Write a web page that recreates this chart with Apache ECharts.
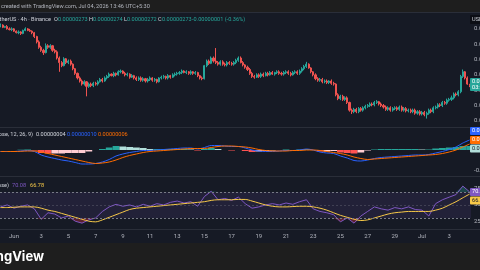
<!DOCTYPE html>
<html>
<head>
<meta charset="utf-8">
<script src="https://cdn.jsdelivr.net/npm/echarts@6/dist/echarts.min.js"></script>
<style>
html, body { margin: 0; background: #161a25; }
#chart { width: 480px; height: 270px; }
</style>
</head>
<body>
<div id="chart"></div>
<script>
// 4h bars, bar 0 = May 31 00:00. prices in units of 0.00000001 USDT
var firstOpen = 312;
var closes = [
  312.5, 311, 311.5, 310, 309.5, 310,
  308.5, 307.5, 308, 307, 309, 310,
  309, 308.5, 307.5, 305, 301.5, 298,
  296, 294.5, 299, 298, 299, 296,
  295, 291, 288, 286, 290.5, 288,
  289, 287, 284, 281, 278, 276,
  274, 275.5, 272.5, 274, 273, 274.5,
  274, 275.5, 277, 276, 278, 279,
  280.5, 279.5, 281, 280, 282, 282.5,
  281, 280, 280.5, 278.5, 279.5, 278,
  277, 278, 276.5, 277.5, 276, 277,
  278, 276.5, 277, 275.5, 278, 278.5,
  279, 278, 279.5, 278.5, 280, 280.5,
  281, 281.5, 282.5, 281.5, 282, 281,
  282, 281, 281.5, 279.5, 278, 277.5,
  286, 289, 287.5, 291, 289, 288,
  287, 288.5, 287, 286.5, 288, 287.5,
  287, 288, 289.5, 291, 288, 286.5,
  285, 283.5, 281, 279, 278.5, 280,
  279, 280.5, 279.5, 281, 280, 281.5,
  280.5, 281.5, 282, 281, 280.5, 281.5,
  282, 281, 280, 281.5, 282, 281,
  282.5, 284, 285.5, 287, 284.5, 282,
  280, 277.5, 276.5, 277, 275.5, 276,
  275, 276, 274.5, 274, 267, 264.5,
  266, 264, 265, 262, 257, 256,
  257.5, 256, 258, 257, 258.5, 259.5,
  260, 261, 260.5, 262, 262.5, 261,
  260, 259, 257.5, 258.5, 257, 258,
  258.5, 257.5, 259, 257, 258, 256.5,
  257, 256, 257, 255, 256, 254.5,
  255.5, 254, 255, 257, 256, 258.5,
  259, 260.5, 260, 262, 261.5, 263.5,
  264, 265, 267.5, 267, 269, 279,
  282, 278, 274, 273
];
var highs = [
  313.5, 313, 312, 312.5, 311, 311,
  310.5, 309, 309, 308.5, 309.5, 311,
  310.5, 310, 309, 308, 305.5, 302.5,
  299, 297, 300.5, 300, 300, 299.5,
  297, 296, 292, 289, 291.5, 291,
  290, 290, 287.5, 284.5, 281.5, 279,
  277, 276.5, 276, 275, 275, 275.5,
  275.5, 276.5, 278, 278, 279, 280,
  281.5, 281, 282, 281.5, 283, 283.5,
  283, 282, 281.5, 281, 280.5, 280,
  279, 279, 279, 278.5, 278, 278,
  279, 278.5, 278, 277.5, 278.5, 279.5,
  280, 279.5, 280.5, 280, 281, 281.5,
  282, 282.5, 283.5, 283, 283, 282.5,
  283, 282.5, 282.5, 282, 280, 279,
  286.5, 290, 290, 292, 292, 297.5,
  289, 289.5, 289.5, 288, 289, 289,
  288.5, 289, 290.5, 292, 292, 289,
  287, 286, 284.5, 282, 280, 281,
  281, 281.5, 281.5, 282, 282, 282.5,
  282.5, 282, 283, 283, 282, 282.5,
  283, 283, 282, 282.5, 283, 283,
  283.5, 285, 286.5, 288.5, 287.5, 285,
  282.5, 281, 278.5, 278, 278, 277,
  277, 276.5, 277, 275.5, 274.5, 268,
  267, 267, 266, 266, 262.5, 258,
  258.5, 258.5, 259, 259, 259.5, 260.5,
  261, 262, 262, 263, 263.5, 263,
  262, 261, 260, 259.5, 259.5, 259,
  259.5, 259.5, 260, 260, 259, 259,
  258, 258, 258, 258, 257, 257,
  256.5, 256.5, 256, 258, 258, 259.5,
  260, 261.5, 261.5, 263, 263, 264.5,
  265, 266.5, 268.5, 268.5, 270, 280,
  283.5, 282.5, 279, 274
];
var lows = [
  311, 310.5, 310.5, 309.5, 309, 308.5,
  308, 307, 306.5, 306, 306.5, 308.5,
  308.5, 308, 306.5, 304, 300.5, 297,
  295, 293, 294, 297, 297, 295,
  294, 290, 282, 285, 285.5, 287,
  287, 286, 283, 280, 277, 275,
  273, 273, 266, 271.5, 272, 272,
  273, 273, 275, 275, 275.5, 277,
  278, 279, 278.5, 279, 279.5, 281,
  280.5, 279, 279, 277.5, 278, 277,
  276, 276, 275.5, 275.5, 275, 275,
  276, 275.5, 275.5, 274.5, 275, 277,
  277.5, 277, 277, 277.5, 278, 279,
  279.5, 280, 280.5, 281, 280.5, 280,
  280, 280, 280, 278.5, 277, 276.5,
  277, 285, 286.5, 287, 288, 287,
  286, 286, 286, 285.5, 285.5, 286.5,
  286, 286, 287, 288.5, 287.5, 285.5,
  284, 282.5, 280, 278, 277.5, 278,
  278, 278, 278.5, 279, 279, 279.5,
  280, 279.5, 280.5, 280, 279.5, 279.5,
  280.5, 280, 279, 279.5, 280.5, 280,
  280, 281.5, 283, 284.5, 284, 281,
  279, 276.5, 275.5, 275.5, 274.5, 274.5,
  274, 274, 273.5, 273, 266, 263.5,
  263.5, 263, 263, 261, 256, 254.5,
  255, 255, 255, 256, 256, 257.5,
  258.5, 259, 259.5, 259.5, 261, 260,
  259, 258, 256.5, 256.5, 256, 256,
  257, 256.5, 256.5, 256, 256, 255.5,
  255.5, 255, 255, 254, 254, 253.5,
  253.5, 253, 251.5, 254, 255, 255,
  257.5, 258, 259, 259, 260.5, 260.5,
  262.5, 263, 264, 266, 266, 268,
  278, 277, 273.5, 272
];

// indicators read every 12h (every 3rd bar), MACD in units of 0.00000001
var macdLine = [
  -1.5, -1.5, -1.5, -1, -0.5, -1.5, -5, -7, -8.5, -10,
  -11, -12.5, -14, -14, -13.5, -12, -9.5, -6, -4, -2.5,
  -1.5, -0.5, -0.5, 0, 0.5, 1, 1.5, 2, 2, 1,
  2.5, 4.5, 4.5, 4, 3.5, 3.5, 2, 0, -1, -1.5,
  -1.5, -1, -0.5, -0.5, 0, 1, 0, -2, -3, -3.5,
  -6, -8, -10.5, -11, -10, -8.5, -7.5, -7, -6.5, -6,
  -5.5, -5, -5, -4.5, -3, -1.5, 0.5, 3, 7, 10
];
var signalLine = [
  -1.5, -1.5, -1.5, -1.3, -1, -1, -2, -3.5, -5, -6.5,
  -8, -9.5, -11, -12.5, -13.5, -13, -12, -10, -7.5, -5.5,
  -4, -2.5, -1.5, -1, -0.5, 0, 0.5, 1, 1.5, 1.5,
  1.5, 2.5, 3.5, 4, 4, 3.5, 3, 2, 0.5, -0.5,
  -1, -1, -1, -0.5, -0.5, 0, 0, -0.5, -1.5, -2.5,
  -3.5, -5, -7, -8.5, -9.5, -9, -8.5, -8, -7.5, -7,
  -6.5, -6, -5.5, -5, -4.5, -3.5, -2, 0, 3, 6
];
var histogram = [
  0, 0, 0, 0.3, 0.5, -0.5, -3, -3.5, -3.5, -3.5,
  -3, -3, -3, -1.5, 0, 1, 2.5, 4, 3.5, 3,
  2.5, 2, 1, 1, 1, 1, 1, 1, 0.5, -0.5,
  1, 2, 1, 0, -0.5, 0, -1, -2, -1.5, -1,
  -0.5, 0, 0.5, 0, 0.5, 1, 0, -1.5, -1.5, -1,
  -2.5, -3, -3.5, -2.5, -0.5, 0.5, 1, 1, 1, 1,
  1, 1, 0.5, 0.5, 1.5, 2, 2.5, 3, 4, 4
];
var rsiLine = [
  47, 50, 45, 48, 50, 44, 28, 38, 36, 30,
  33, 25, 22, 27, 30, 40, 47, 51, 48, 50,
  47, 51, 48, 52, 50, 54, 56, 53, 55, 48,
  63, 71, 58, 60, 57, 62, 52, 45, 47, 50,
  52, 50, 53, 51, 55, 58, 44, 40, 38, 35,
  24, 30, 22, 33, 40, 47, 44, 42, 46, 44,
  47, 43, 42, 33, 52, 58, 62, 66, 79, 70.08
];
var rsiMa = [
  46, 46, 46.5, 47, 47, 47, 45, 42, 40, 37,
  34, 31, 28, 25, 24, 27, 31, 35, 39, 43,
  45, 46, 47, 48, 49, 50, 51, 52, 53, 54,
  55, 57, 58, 58, 58, 58.5, 58.5, 56, 53, 50,
  48, 47, 47, 47.5, 48, 48, 47, 45, 42, 38,
  34, 31, 28, 26, 27, 30, 33, 36, 38, 39,
  40, 40, 40, 40, 42, 45, 50, 55, 61, 66.78
];

// date ticks: Jun 1 is bar 6, then every 2 days (12 bars)
var tickBars = [6, 18, 30, 42, 54, 66, 78, 90, 102, 114, 126, 138, 150, 162, 174, 186, 198];
var tickLabels = ['Jun', '3', '5', '7', '9', '11', '13', '15', '17', '19', '21', '23', '25', '27', '29', 'Jul', '3'];
var priceTicks = [250, 260, 270, 280, 290, 300, 310];

var font = 'Roboto, "Noto Sans", sans-serif';
var muted = '#b2b5be';
var up = '#26a69a', down = '#ef5350';

var candles = closes.map(function (c, i) {
  var o = i ? closes[i - 1] : firstOpen;
  return [i, o, c, lows[i], highs[i]];
});
function at12h(arr) {
  return arr.map(function (v, k) { return [k * 3, v]; });
}
var histData = histogram.map(function (v, k) {
  var prev = k ? histogram[k - 1] : 0;
  var col = v >= 0 ? (v >= prev ? '#26a69a' : '#b2dfdb') : (v < prev ? '#ff5252' : '#ffcdd2');
  return { value: [k * 3, v], itemStyle: { color: col } };
});
var lowFill = at12h(rsiLine.map(function (v) { return Math.min(v, 30); }));
var highFill = at12h(rsiLine.map(function (v) { return Math.max(v, 70); }));

function xAx(idx, labels) {
  return {
    type: 'value', gridIndex: idx, min: -0.18, max: 207.6,
    axisLine: { show: false }, axisTick: { show: false }, splitLine: { show: false },
    axisLabel: labels ? {
      show: true, customValues: tickBars, margin: 4, color: muted, fontSize: 6, fontFamily: font,
      formatter: function (v) { return tickLabels[tickBars.indexOf(v)]; }
    } : { show: false }
  };
}
function yAx(idx, min, max, vals, fmt) {
  return {
    type: 'value', gridIndex: idx, position: 'right', min: min, max: max,
    axisLine: { show: false }, axisTick: { show: false }, splitLine: { show: false },
    axisLabel: { customValues: vals, margin: 3, color: muted, fontSize: 6, fontFamily: font, formatter: fmt }
  };
}
var fmt8 = function (v) { return (v * 1e-8).toFixed(8); };

function txt(x, y, s, col, opts) {
  var st = { text: s, fill: col, font: '5.6px ' + font, textVerticalAlign: 'middle' };
  if (opts) for (var k in opts) st[k] = opts[k];
  return { type: 'text', x: x, y: y, z: 100, style: st };
}
function box(y, col, label, textCol) {
  return { type: 'group', x: 470, y: y, z: 100, children: [
    { type: 'rect', shape: { x: 0, y: 0, width: 12, height: 8, r: 1 }, style: { fill: col }, z: 100 },
    { type: 'text', x: 2, y: 4, z: 101, style: { text: label, fill: textCol, font: '5.6px ' + font, textVerticalAlign: 'middle' } }
  ] };
}
function sep(y) {
  return { type: 'line', z: 90, shape: { x1: 0, y1: y, x2: 480, y2: y }, style: { stroke: '#2a2e39', lineWidth: 1 } };
}

var gridBase = { left: 0, width: 471, outerBoundsMode: 'none', containLabel: false };
var option = {
  animation: false,
  backgroundColor: '#161a25',
  grid: [
    Object.assign({ top: 12, height: 115 }, gridBase),
    Object.assign({ top: 128, height: 48 }, gridBase),
    Object.assign({ top: 177, height: 52 }, gridBase)
  ],
  xAxis: [xAx(0, false), xAx(1, false), xAx(2, true)],
  yAxis: [
    yAx(0, 246, 321, priceTicks, fmt8),
    yAx(1, -26, 22, [-20], fmt8),
    yAx(2, 13, 93, [25, 50, 75], null)
  ],
  series: [
    {
      type: 'candlestick', xAxisIndex: 0, yAxisIndex: 0, barWidth: 1.6,
      encode: { x: 0, y: [1, 2, 3, 4] },
      itemStyle: { color: up, color0: down, borderColor: up, borderColor0: down, borderWidth: 1 },
      data: candles
    },
    {
      type: 'bar', xAxisIndex: 1, yAxisIndex: 1, barWidth: 6.8, data: histData
    },
    {
      type: 'line', xAxisIndex: 1, yAxisIndex: 1, data: at12h(macdLine), showSymbol: false, smooth: 0.3,
      lineStyle: { color: '#2962ff', width: 1 }
    },
    {
      type: 'line', xAxisIndex: 1, yAxisIndex: 1, data: at12h(signalLine), showSymbol: false, smooth: 0.3,
      lineStyle: { color: '#ff6d00', width: 1 }
    },
    {
      type: 'line', xAxisIndex: 2, yAxisIndex: 2, data: lowFill, showSymbol: false,
      lineStyle: { width: 0 }, areaStyle: { origin: 30, color: 'rgba(242,54,69,0.45)' }
    },
    {
      type: 'line', xAxisIndex: 2, yAxisIndex: 2, data: highFill, showSymbol: false,
      lineStyle: { width: 0 }, areaStyle: { origin: 70, color: 'rgba(38,166,154,0.45)' }
    },
    {
      type: 'line', xAxisIndex: 2, yAxisIndex: 2, data: at12h(rsiLine), showSymbol: false,
      lineStyle: { color: '#7e57c2', width: 1 },
      markArea: { silent: true, itemStyle: { color: 'rgba(126,87,194,0.12)' }, data: [[{ yAxis: 30 }, { yAxis: 70 }]] },
      markLine: {
        silent: true, symbol: 'none', label: { show: false },
        lineStyle: { color: '#787b86', type: [2, 2], width: 1 },
        data: [{ yAxis: 70 }, { yAxis: 30 }, { yAxis: 50, lineStyle: { opacity: 0.35 } }]
      }
    },
    {
      type: 'line', xAxisIndex: 2, yAxisIndex: 2, data: at12h(rsiMa), showSymbol: false, smooth: 0.3,
      lineStyle: { color: '#f7c948', width: 1 }
    }
  ],
  graphic: [
    { type: 'rect', z: 95, shape: { x: 0, y: 0, width: 480, height: 12 }, style: { fill: '#1e1e1e' } },
    { type: 'rect', z: 95, shape: { x: 0, y: 243, width: 480, height: 27 }, style: { fill: '#1e1e1e' } },
    sep(12.5), sep(127.5), sep(176.5), sep(229.5),
    txt(1, 6.5, 'created with TradingView.com, Jul 04, 2026 13:46 UTC+5:30', '#b2b5be'),
    txt(51, 19.5, 'TetherUS · 4h · Binance', '#d1d4dc', { textAlign: 'right' }),
    txt(54, 19.5, 'O', '#d1d4dc'), txt(58, 19.5, '0.00000273', up),
    txt(89, 19.5, 'H', '#d1d4dc'), txt(93, 19.5, '0.00000274', up),
    txt(124, 19.5, 'L', '#d1d4dc'), txt(127, 19.5, '0.00000272', up),
    txt(158, 19.5, 'C', '#d1d4dc'), txt(162, 19.5, '0.00000273', up),
    txt(192, 19.5, '-0.00000001 (-0.36%)', up),
    txt(33, 135, 'MACD (close, 12, 26, 9)', '#d1d4dc', { textAlign: 'right' }),
    txt(36, 135, '0.00000004', '#d1d4dc'),
    txt(67, 135, '0.00000010', '#2962ff'),
    txt(98, 135, '0.00000006', '#ff6d00'),
    txt(9, 186, 'RSI (14, close)', '#d1d4dc', { textAlign: 'right' }),
    txt(12, 186, '70.08', '#7e57c2'),
    txt(30, 186, '66.78', '#f7c948'),
    { type: 'group', x: 470, y: 15, z: 100, children: [
      { type: 'rect', shape: { x: 0, y: 0, width: 12, height: 9, r: 1 }, style: { fill: '#0c0e15' }, z: 100 },
      { type: 'text', x: 2, y: 4.5, z: 101, style: { text: 'USDT', fill: '#d1d4dc', font: '5.6px ' + font, textVerticalAlign: 'middle' } }
    ] },
    { type: 'group', x: 470, y: 78, z: 100, children: [
      { type: 'rect', shape: { x: 0, y: 0, width: 12, height: 13, r: 1 }, style: { fill: '#26a69a' }, z: 100 },
      { type: 'text', x: 2, y: 4, z: 101, style: { text: '0.00000273', fill: '#fff', font: '5.6px ' + font, textVerticalAlign: 'middle' } },
      { type: 'text', x: 2, y: 10, z: 101, style: { text: '03:13:59', fill: '#fff', font: '5.6px ' + font, textVerticalAlign: 'middle' } }
    ] },
    box(127, '#2962ff', '0.00000010', '#fff'),
    box(136, '#ff6d00', '0.00000006', '#fff'),
    box(144.5, '#b2dfdb', '0.00000004', '#131722'),
    box(188, '#7e57c2', '70.08', '#fff'),
    box(196.5, '#f7c948', '66.78', '#131722'),
    { type: 'text', x: 44, y: 257, z: 100, style: { text: 'TradingView', fill: '#ffffff', font: 'bold 13px Inter, Roboto, sans-serif', textAlign: 'right', textVerticalAlign: 'middle' } }
  ]
};

var chart = echarts.init(document.getElementById('chart'), null, { renderer: 'canvas' });
chart.setOption(option);
</script>
</body>
</html>
